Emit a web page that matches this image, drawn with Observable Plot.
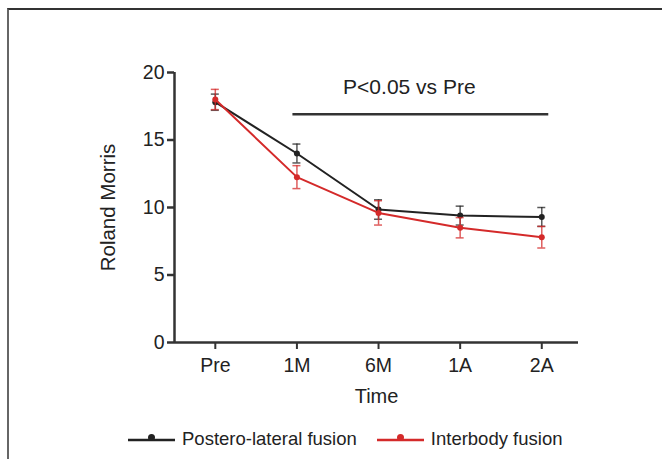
<!DOCTYPE html>
<html>
<head>
<meta charset="utf-8">
<script src="https://cdn.jsdelivr.net/npm/d3@7"></script>
<script src="https://cdn.jsdelivr.net/npm/@observablehq/plot@0.6"></script>
<style>
  html, body { margin: 0; padding: 0; background: #fff; }
  body { width: 662px; height: 459px; position: relative; overflow: hidden; font-family: "Liberation Sans", Arial, sans-serif; }
  #frame { position: absolute; left: 7px; top: 8px; width: 700px; height: 500px; border-top: 2px solid #333; border-left: 2px solid #666; box-sizing: border-box; }
  #chart { position: absolute; left: 0; top: 0; }
  #legend { position: absolute; top: 428px; left: 128px; display: flex; align-items: center; font-size: 18.5px; color: #222; }
  .item { display: flex; align-items: center; margin-right: 20px; }
  .item svg { margin-right: 7px; }
</style>
</head>
<body>
<div id="frame"></div>
<div id="chart"></div>
<div id="legend"></div>
<script>
const times = ["Pre", "1M", "6M", "1A", "2A"];
const seriesNames = ["Postero-lateral fusion", "Interbody fusion"];
const seriesColors = ["#222222", "#d42a2a"];
const posteroMean = [17.8, 14.0, 9.85, 9.4, 9.3];
const posteroErr = [0.6, 0.7, 0.72, 0.7, 0.7];
const interMean = [18.0, 12.25, 9.6, 8.5, 7.8];
const interErr = [0.75, 0.85, 0.9, 0.75, 0.8];
const yTicks = [0, 5, 10, 15, 20];
const sigLabel = "P<0.05 vs Pre";
const sigValue = 16.9;
const sigFrom = "1M";
const sigTo = "2A";
const xLabel = "Time";
const yLabel = "Roland Morris";

const xDomain = [-0.5, 4.45];
const rows = [];
[[posteroMean, posteroErr], [interMean, interErr]].forEach(([m, e], s) => {
  times.forEach((t, i) => rows.push({series: seriesNames[s], color: seriesColors[s], i, mean: m[i], lo: m[i] - e[i], hi: m[i] + e[i]}));
});
const sig = [{y: sigValue, x1: times.indexOf(sigFrom), x2: times.indexOf(sigTo)}];

const font = '"Liberation Sans", Arial, sans-serif';
const axisColor = "#333";

const marks = [
  Plot.ruleY([0], {stroke: axisColor, strokeWidth: 2.5}),
  Plot.ruleX([xDomain[0]], {y1: 0, y2: 20, stroke: axisColor, strokeWidth: 2.5}),
  Plot.axisY({ticks: yTicks, tickSize: 7, tickPadding: 3, stroke: axisColor, strokeWidth: 2.5, fontSize: 19.5, fill: "#222"}),
  Plot.axisX({ticks: d3.range(times.length), tickFormat: i => times[i], tickSize: 7, tickPadding: 9, stroke: axisColor, strokeWidth: 2, fontSize: 19.5, fill: "#222"}),
  Plot.text([xLabel], {frameAnchor: "bottom", dy: 54, lineAnchor: "middle", fontSize: 20, fill: "#222"}),
  Plot.text([yLabel], {frameAnchor: "left", dx: -66, rotate: -90, textAnchor: "middle", lineAnchor: "middle", fontSize: 20.5, fill: "#222"}),
  Plot.ruleY(sig, {y: "y", x1: "x1", x2: "x2", insetLeft: -4, insetRight: -7, stroke: "#333", strokeWidth: 2.5}),
  Plot.text(sig, {x: d => (d.x1 + d.x2) / 2, y: () => 20, dx: -10, dy: 15, text: () => sigLabel, fontSize: 21, fill: "#222"}),
];
seriesNames.forEach((name, s) => {
  const data = rows.filter(r => r.series === name);
  const c = seriesColors[s];
  marks.push(
    Plot.ruleX(data, {x: "i", y1: "lo", y2: "hi", stroke: c, strokeWidth: 1.5, strokeOpacity: 0.75}),
    Plot.ruleY(data, {y: "hi", x1: "i", x2: "i", insetLeft: -4, insetRight: -4, stroke: c, strokeWidth: 1.5, strokeOpacity: 0.75}),
    Plot.ruleY(data, {y: "lo", x1: "i", x2: "i", insetLeft: -4, insetRight: -4, stroke: c, strokeWidth: 1.5, strokeOpacity: 0.75}),
    Plot.line(data, {x: "i", y: "mean", stroke: c, strokeWidth: 2}),
    Plot.dot(data, {x: "i", y: "mean", fill: c, r: 3})
  );
});

const chart = Plot.plot({
  width: 662,
  height: 410,
  marginTop: 72,
  marginBottom: 68,
  marginLeft: 174,
  marginRight: 84,
  style: {fontFamily: font, background: "transparent", overflow: "visible"},
  x: {type: "linear", domain: xDomain, axis: null},
  y: {domain: [0, 20], axis: null},
  marks
});
document.getElementById("chart").append(chart);

const legend = document.getElementById("legend");
seriesNames.forEach((name, s) => {
  const item = document.createElement("div");
  item.className = "item";
  item.innerHTML = `<svg width="47" height="12"><line x1="0" x2="47" y1="7" y2="7" stroke="${seriesColors[s]}" stroke-width="2.5"/><circle cx="23.5" cy="4.5" r="3.5" fill="${seriesColors[s]}"/></svg><span>${name}</span>`;
  legend.append(item);
});
</script>
</body>
</html>
